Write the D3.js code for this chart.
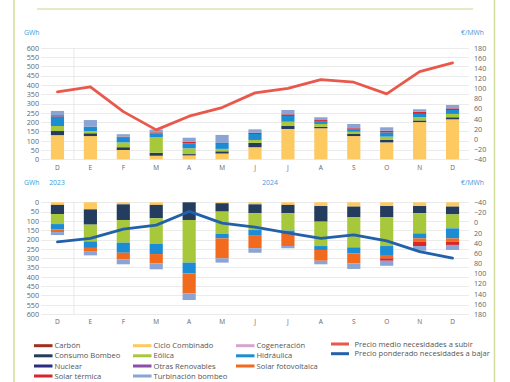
<!DOCTYPE html>
<html>
<head>
<meta charset="utf-8">
<script src="https://cdn.jsdelivr.net/npm/d3@7"></script>
<style>
  body { margin: 0; background: #fff; }
  svg { display: block; font-family: "Open Sans", sans-serif; }
</style>
</head>
<body>
<div id="app"></div>
<script>
// months Dec 2023 .. Dec 2024
const months = ["D", "E", "F", "M", "A", "M", "J", "J", "A", "S", "O", "N", "D"];

// upward needs (GWh), stacked bottom-up
const subirCiclo = [130, 125, 50, 19, 21, 31, 65, 163, 167, 125, 91, 200, 215];
const subirBombeo = [22, 15, 15, 16, 7, 12, 24, 18, 8, 11, 13, 9, 11];
const subirEolica = [27, 12, 26, 83, 31, 13, 15, 21, 15, 12, 18, 17, 18];
const subirHidraulica = [52, 23, 25, 22, 27, 27, 32, 31, 12, 11, 23, 18, 21];
const subirSolarTermica = [6, 0, 6, 5, 8, 5, 7, 9, 9, 8, 9, 12, 9];
const subirTurbinacion = [23, 36, 13, 15, 22, 43, 18, 23, 15, 23, 18, 13, 18];

// downward needs (GWh), stacked from 0 downwards
const bajarCiclo = [14, 38, 11, 14, 0, 5, 11, 14, 20, 23, 20, 20, 23];
const bajarBombeo = [49, 82, 84, 72, 95, 45, 48, 45, 84, 58, 61, 39, 42];
const bajarEolica = [54, 90, 122, 138, 229, 120, 90, 93, 131, 161, 154, 108, 75];
const bajarHidraulica = [28, 35, 54, 54, 58, 24, 27, 18, 21, 32, 48, 27, 54];
const bajarFotovoltaica = [15, 17, 35, 50, 107, 107, 71, 65, 58, 54, 18, 17, 17];
const bajarSolarTermica = [0, 0, 0, 0, 0, 0, 0, 0, 0, 0, 13, 24, 18];
const bajarTurbinacion = [16, 23, 27, 32, 36, 23, 24, 12, 19, 30, 27, 25, 27];

// prices (€/MWh)
const precioSubir = [93, 103, 54, 18, 45, 62, 91, 100, 117, 112, 89, 133, 150];
const precioBajar = [38, 31, 13, 5, -22, 1, 9, 20, 31, 24, 36, 57, 70];

const gwhTicks = d3.range(0, 601, 50);
const eurTicks = d3.range(-40, 181, 20);

const colors = {
  "Carbón": "#a0301e",
  "Consumo Bombeo": "#243c5e",
  "Nuclear": "#2b2d80",
  "Solar térmica": "#d9262b",
  "Ciclo Combinado": "#fdc961",
  "Eólica": "#a8c83c",
  "Otras Renovables": "#8b4fa8",
  "Turbinación bombeo": "#8aa4d4",
  "Cogeneración": "#d5a5cf",
  "Hidráulica": "#1c8dd4",
  "Solar fotovoltaica": "#f26a1e",
  "Precio medio necesidades a subir": "#e8594b",
  "Precio ponderado necesidades a bajar": "#2360aa"
};

const legendCols = [
  ["Carbón", "Consumo Bombeo", "Nuclear", "Solar térmica"],
  ["Ciclo Combinado", "Eólica", "Otras Renovables", "Turbinación bombeo"],
  ["Cogeneración", "Hidráulica", "Solar fotovoltaica"],
  ["Precio medio necesidades a subir", "Precio ponderado necesidades a bajar"]
];

const subirRows = months.map((m, i) => ({
  i,
  "Ciclo Combinado": subirCiclo[i],
  "Consumo Bombeo": subirBombeo[i],
  "Eólica": subirEolica[i],
  "Hidráulica": subirHidraulica[i],
  "Solar térmica": subirSolarTermica[i],
  "Turbinación bombeo": subirTurbinacion[i]
}));
const subirKeys = ["Ciclo Combinado", "Consumo Bombeo", "Eólica", "Hidráulica", "Solar térmica", "Turbinación bombeo"];

const bajarRows = months.map((m, i) => ({
  i,
  "Ciclo Combinado": bajarCiclo[i],
  "Consumo Bombeo": bajarBombeo[i],
  "Eólica": bajarEolica[i],
  "Hidráulica": bajarHidraulica[i],
  "Solar fotovoltaica": bajarFotovoltaica[i],
  "Solar térmica": bajarSolarTermica[i],
  "Turbinación bombeo": bajarTurbinacion[i]
}));
const bajarKeys = ["Ciclo Combinado", "Consumo Bombeo", "Eólica", "Hidráulica", "Solar fotovoltaica", "Solar térmica", "Turbinación bombeo"];

const W = 510, H = 382;
const svg = d3.select("#app").append("svg").attr("width", W).attr("height", H);

// page frame
svg.append("line").attr("x1", 14).attr("x2", 14).attr("y1", 0).attr("y2", H)
  .attr("stroke", "#d3dd9c").attr("stroke-width", 1.5);
svg.append("line").attr("x1", 494.5).attr("x2", 494.5).attr("y1", 0).attr("y2", H)
  .attr("stroke", "#d3dd9c").attr("stroke-width", 1.5);
svg.append("line").attr("x1", 37).attr("x2", 473).attr("y1", 9).attr("y2", 9)
  .attr("stroke", "#c9d88e").attr("stroke-width", 1);

const x = d3.scaleBand()
  .domain(months.map((m, i) => i))
  .range([41, 469])
  .paddingInner(0.6)
  .paddingOuter(0.3);
const cx = (i) => x(i) + x.bandwidth() / 2;
const sepX = x(0) + x.bandwidth() + (x.step() - x.bandwidth()) / 2;

function panel(top, bottom, down, rows, keys, price, priceColor, labelY, unitY) {
  const yL = d3.scaleLinear().domain([0, 600]).range(down ? [top, bottom] : [bottom, top]);
  const yR = d3.scaleLinear().domain([-40, 180]).range(down ? [top, bottom] : [bottom, top]);
  const g = svg.append("g");

  // grid
  g.append("g").selectAll("line").data(gwhTicks).join("line")
    .attr("x1", 41).attr("x2", 469)
    .attr("y1", (d) => Math.round(yL(d)) + 0.5).attr("y2", (d) => Math.round(yL(d)) + 0.5)
    .attr("stroke", "#e6e6e6").attr("stroke-width", 0.8);
  g.append("line").attr("x1", sepX).attr("x2", sepX).attr("y1", top).attr("y2", bottom)
    .attr("stroke", "#e3e3e3").attr("stroke-width", 0.8);

  // axes
  const left = g.append("g").attr("transform", "translate(39,0)")
    .call(d3.axisLeft(yL).tickValues(gwhTicks).tickSize(0).tickPadding(0));
  const right = g.append("g").attr("transform", "translate(474,0)")
    .call(d3.axisRight(yR).tickValues(eurTicks).tickSize(0).tickPadding(0));
  const bottomAx = g.append("g").attr("transform", `translate(0,${labelY})`)
    .call(d3.axisBottom(x).tickSize(0).tickPadding(0).tickFormat((i) => months[i]));
  [left, right, bottomAx].forEach((a) => {
    a.select(".domain").remove();
    a.selectAll("text").attr("fill", "#666").style("font-size", "7.2px")
      .style("font-family", "'Open Sans', sans-serif");
  });
  bottomAx.selectAll("text").style("font-size", "6.5px").attr("dy", "0.3em");

  // stacked bars
  const series = d3.stack().keys(keys)(rows);
  g.append("g").selectAll("g").data(series).join("g")
    .attr("fill", (s) => colors[s.key])
    .selectAll("rect").data((s) => s).join("rect")
    .attr("x", (d) => x(d.data.i))
    .attr("width", x.bandwidth())
    .attr("y", (d) => Math.min(yL(d[0]), yL(d[1])))
    .attr("height", (d) => Math.abs(yL(d[1]) - yL(d[0])));

  // price line
  g.append("path")
    .datum(price)
    .attr("fill", "none")
    .attr("stroke", priceColor)
    .attr("stroke-width", 2.8)
    .attr("stroke-linejoin", "round")
    .attr("stroke-linecap", "round")
    .attr("d", d3.line().x((d, i) => cx(i)).y((d) => yR(d)));

  // units
  g.append("text").attr("x", 24).attr("y", unitY).text("GWh")
    .attr("fill", "#3a9ad9").style("font-size", "6.8px");
  g.append("text").attr("x", 484).attr("y", unitY).attr("text-anchor", "end").text("€/MWh")
    .attr("fill", "#3a9ad9").style("font-size", "6.8px");
}

panel(47.7, 159.3, false, subirRows, subirKeys, precioSubir, colors["Precio medio necesidades a subir"], 167.7, 34.5);
panel(202.3, 314, true, bajarRows, bajarKeys, precioBajar, colors["Precio ponderado necesidades a bajar"], 322.3, 184.5);

// year labels
svg.append("text").attr("x", 57).attr("y", 184.5).attr("text-anchor", "middle").text("2023")
  .attr("fill", "#3a9ad9").style("font-size", "6.8px");
svg.append("text").attr("x", 270).attr("y", 184.5).attr("text-anchor", "middle").text("2024")
  .attr("fill", "#3a9ad9").style("font-size", "6.8px");

// legend
const colX = [34, 133, 236, 331];
const rowY = [345.7, 355.8, 366, 376];
const rowY4 = [344, 353.7];
legendCols.forEach((col, c) => {
  col.forEach((name, r) => {
    const y = c === 3 ? rowY4[r] : rowY[r];
    const sw = c === 3 ? 18 : 18.5;
    svg.append("rect").attr("x", colX[c]).attr("y", y - 1.5).attr("width", sw).attr("height", 3)
      .attr("fill", colors[name]);
    svg.append("text").attr("x", colX[c] + (c === 3 ? 23.5 : 20.5)).attr("y", y).attr("dy", "0.35em")
      .text(name).attr("fill", "#555").style("font-size", "7.6px");
  });
});
</script>
</body>
</html>
